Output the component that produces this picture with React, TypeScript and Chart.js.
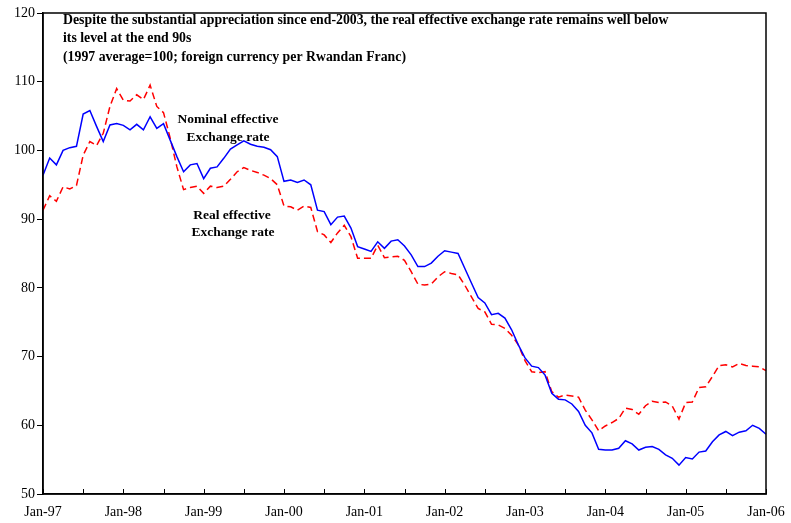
import React, { useEffect, useRef } from "react";
import { Chart, registerables } from "chart.js";

Chart.register(...registerables);

const MONTHS = ["Jan", "Feb", "Mar", "Apr", "May", "Jun", "Jul", "Aug", "Sep", "Oct", "Nov", "Dec"];
const YEARS = ["97", "98", "99", "00", "01", "02", "03", "04", "05", "06"];

const nominalEER = [
  96.4, 98.9, 97.9, 100.0, 100.4, 100.6, 105.3, 105.8, 103.5, 101.3, 103.7, 103.9,
  103.65, 103.0, 103.8, 103.0, 104.9, 103.2, 103.9, 101.5, 99.1, 96.9, 97.9, 98.1,
  95.9, 97.4, 97.6, 98.85, 100.2, 100.8, 101.4, 100.9, 100.6, 100.45, 100.1, 99.1,
  95.5, 95.7, 95.35, 95.7, 95.0, 91.3, 91.1, 89.2, 90.3, 90.45, 88.7, 86.0,
  85.65, 85.3, 86.7, 85.75, 86.8, 87.0, 86.1, 84.8, 83.1, 83.1, 83.6, 84.6,
  85.4, 85.2, 85.0, 82.85, 80.7, 78.6, 77.8, 76.1, 76.3, 75.6, 73.9, 71.7,
  69.8, 68.6, 68.4, 67.3, 64.65, 63.8, 63.7, 63.1, 62.0, 60.0, 58.9, 56.5,
  56.4, 56.4, 56.65, 57.75, 57.3, 56.4, 56.8, 56.9, 56.5, 55.7, 55.2, 54.2,
  55.3, 55.1, 56.1, 56.25, 57.6, 58.6, 59.1, 58.5, 59.0, 59.2, 60.0, 59.55,
  58.7,
];

const realEER = [
  91.3, 93.4, 92.6, 94.7, 94.4, 94.9, 99.3, 101.3, 100.7, 102.5, 106.4, 109.0,
  107.3, 107.2, 108.1, 107.4, 109.5, 106.4, 105.5, 101.8, 97.6, 94.3, 94.6, 94.8,
  93.75, 94.8, 94.6, 94.8, 95.8, 96.9, 97.5, 97.1, 96.8, 96.4, 95.9, 95.0,
  91.9, 91.8, 91.3, 91.9, 91.7, 88.2, 87.7, 86.6, 88.0, 89.1, 87.45, 84.3,
  84.3, 84.3, 86.2, 84.4, 84.5, 84.6, 84.0, 82.35, 80.55, 80.4, 80.55, 81.6,
  82.35, 82.1, 81.9, 80.4, 78.7, 77.0, 76.5, 74.7, 74.6, 74.1, 73.1, 71.7,
  69.4, 67.8, 67.65, 67.8, 64.9, 64.1, 64.4, 64.25, 64.1, 62.2, 60.8, 59.2,
  59.9, 60.4, 61.0, 62.5, 62.3, 61.6, 62.85, 63.5, 63.3, 63.4, 62.8, 60.9,
  63.3, 63.4, 65.5, 65.6, 67.1, 68.7, 68.8, 68.5, 69.0, 68.7, 68.6, 68.5,
  67.95,
];

const titleLines = [
  "Despite the substantial appreciation since end-2003, the real effective exchange rate remains well below",
  "its level at the end 90s",
  "(1997 average=100; foreign currency per Rwandan Franc)",
];
const nominalLabel = ["Nominal effective", "Exchange rate"];
const realLabel = ["Real effective", "Exchange rate"];

const categories: string[] = [];
YEARS.forEach((y) => MONTHS.forEach((m) => categories.push(m + "-" + y)));
const labels = categories.slice(0, nominalEER.length);

const SERIF = "'Liberation Serif', 'Times New Roman', serif";

const decorPlugin = {
  id: "decor",
  afterDraw(chart: any) {
    const { ctx, chartArea, scales } = chart;
    const { left, right, top, bottom } = chartArea;
    ctx.save();
    // frame
    ctx.strokeStyle = "#000";
    ctx.lineWidth = 1.5;
    ctx.strokeRect(left, top, right - left, bottom - top);
    // inward x tick marks every 6 months
    ctx.lineWidth = 1;
    for (let i = 0; i < labels.length; i += 6) {
      const x = Math.round(scales.x.getPixelForValue(i)) + 0.5;
      ctx.beginPath();
      ctx.moveTo(x, bottom);
      ctx.lineTo(x, bottom - 5);
      ctx.stroke();
    }
    // title text
    ctx.fillStyle = "#000";
    ctx.font = "bold 13.8px " + SERIF;
    ctx.textBaseline = "middle";
    ctx.textAlign = "left";
    const ty = [20, 38.5, 57];
    titleLines.forEach((t, i) => ctx.fillText(t, left + 20, ty[i]));
    // series labels
    ctx.font = "bold 13.5px " + SERIF;
    ctx.textAlign = "center";
    ctx.fillText(nominalLabel[0], 228, 120);
    ctx.fillText(nominalLabel[1], 228, 137.5);
    ctx.fillText(realLabel[0], 232, 216);
    ctx.fillText(realLabel[1], 233, 233);
    ctx.restore();
  },
};

export default function App() {
  const ref = useRef<HTMLCanvasElement>(null);
  useEffect(() => {
    const chart = new Chart(ref.current as HTMLCanvasElement, {
      type: "line",
      data: {
        labels,
        datasets: [
          {
            label: "Nominal effective Exchange rate",
            data: nominalEER,
            borderColor: "#0000FF",
            borderWidth: 1.5,
            pointRadius: 0,
            tension: 0,
            fill: false,
          },
          {
            label: "Real effective Exchange rate",
            data: realEER,
            borderColor: "#FF0000",
            borderWidth: 1.5,
            borderDash: [7, 4],
            pointRadius: 0,
            tension: 0,
            fill: false,
          },
        ],
      },
      options: {
        responsive: false,
        animation: false,
        layout: { padding: { top: 13, right: 25, left: 0, bottom: 0 } },
        plugins: { legend: { display: false }, tooltip: { enabled: false } },
        scales: {
          x: {
            type: "category",
            offset: false,
            grid: { display: true, drawOnChartArea: false, drawTicks: false },
            border: { display: true, color: "#000", width: 1.5 },
            ticks: {
              autoSkip: false,
              maxRotation: 0,
              minRotation: 0,
              padding: 10,
              color: "#000",
              font: { family: SERIF, size: 14 },
              callback: (_v: any, i: number) => (i % 12 === 0 ? labels[i] : ""),
            },
            afterFit: (s: any) => {
              s.height = 29;
              s.paddingLeft = 0;
              s.paddingRight = 0;
            },
          },
          y: {
            min: 50,
            max: 120,
            grid: { drawOnChartArea: false, drawTicks: true, tickLength: 6, color: "#000" },
            border: { display: true, color: "#000", width: 1.5 },
            ticks: {
              stepSize: 10,
              padding: 2,
              color: "#000",
              font: { family: SERIF, size: 14 },
            },
            afterFit: (s: any) => {
              s.width = 43;
              s.paddingTop = 0;
              s.paddingBottom = 0;
            },
          },
        },
      },
      plugins: [decorPlugin],
    });
    return () => chart.destroy();
  }, []);
  return (
    <div style={{ position: "fixed", left: 0, top: 0, width: 791, height: 523, background: "#fff" }}>
      <canvas ref={ref} width={791} height={523} />
    </div>
  );
}
